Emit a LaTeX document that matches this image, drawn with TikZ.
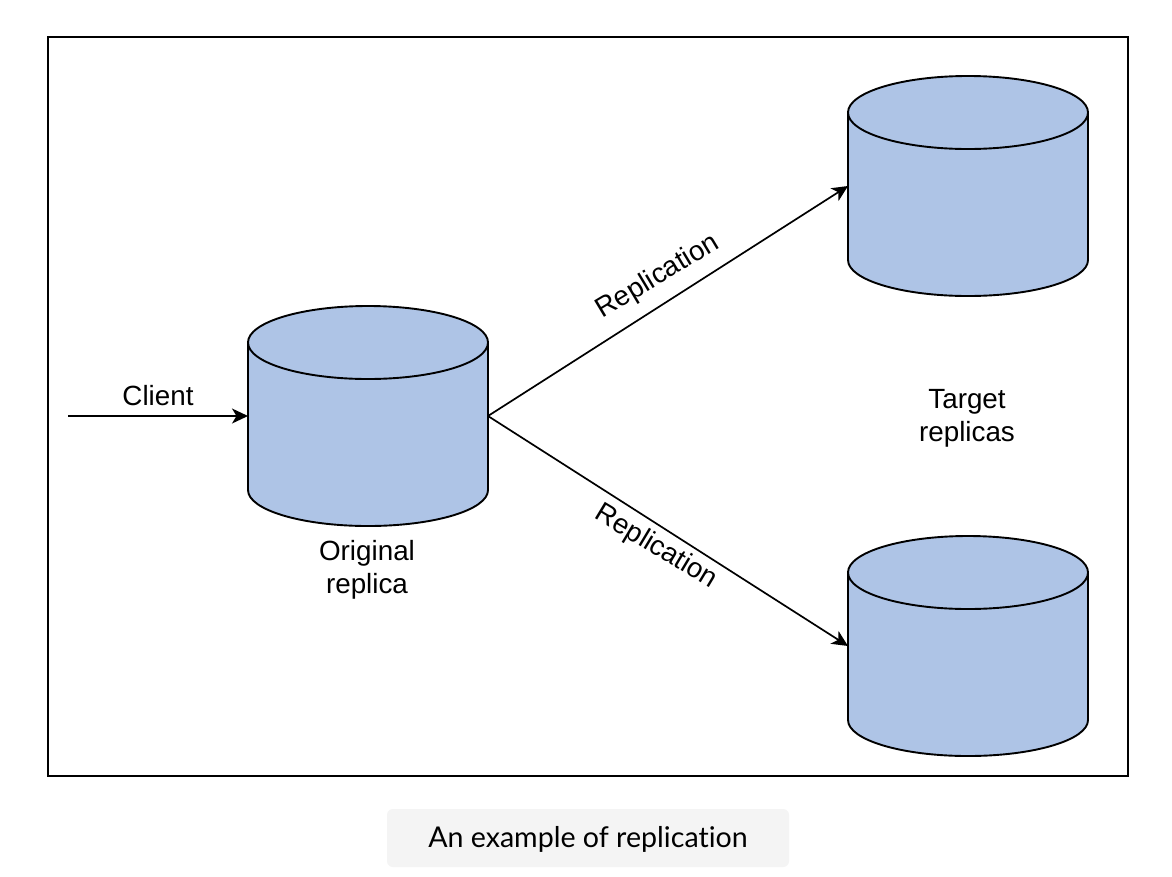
\documentclass[tikz,border=0pt]{standalone}
\usepackage{fontspec}
\setmainfont{Liberation Sans}
\newfontfamily\capfont[Ligatures=NoCommon]{Lato}
\usetikzlibrary{arrows.meta}
\definecolor{dbblue}{HTML}{AEC4E6}
\definecolor{capbg}{HTML}{F4F4F4}
\tikzset{
 x=1pt,y=-1pt,
 cylline/.style={draw=black,line width=1.9pt,fill=dbblue},
 lbl/.style={font=\fontsize{27.8}{33}\selectfont,align=center,inner sep=0pt,text=black},
 conn/.style={draw=black,line width=1.7pt,-{Stealth[length=16pt,width=15pt,inset=4.5pt]}}
}
\newcommand{\cyl}[3]{%
 \path[cylline] (#1,#2+36) -- (#1+240,#2+36) -- (#1+240,#2+184) arc[x radius=120,y radius=36,start angle=0,end angle=180] -- cycle;
 \path[cylline] (#1+120,#2+36.5) ellipse[x radius=120,y radius=36.5];
 \coordinate (#3) at (#1,#2+110);
}
\begin{document}
\begin{tikzpicture}
\useasboundingbox (0,0) rectangle (1172,876);
\fill[white] (0,0) rectangle (1172,876);
\draw[line width=2pt] (48,37) rectangle (1128,776);
\cyl{248}{306}{orig}
\cyl{848}{76}{top}
\cyl{848}{536}{bot}
\coordinate (origE) at (488,416);
\coordinate (start) at (68,416);
\draw[conn] (start) -- (orig);
\draw[conn] (origE) -- (top);
\draw[conn] (origE) -- (bot);
\node[lbl] (client) at (158,396) {Client};
\node[lbl] (orlab) at (367,570) {Original\\replica};
\node[lbl] (tlab) at (967,418) {Target\\replicas};
\node[lbl,rotate=31] (r1) at (658,277) {Replication};
\node[lbl,rotate=-31] (r2) at (656,547) {Replication};
\node[fill=capbg,rounded corners=6pt,minimum width=402pt,minimum height=58pt,inner sep=0pt] (capbox) at (588,838) {};
\node[font=\capfont\fontsize{28.6}{34}\selectfont,inner sep=0pt] (cap) at (588,839) {An example of replication};
\end{tikzpicture}
\end{document}
